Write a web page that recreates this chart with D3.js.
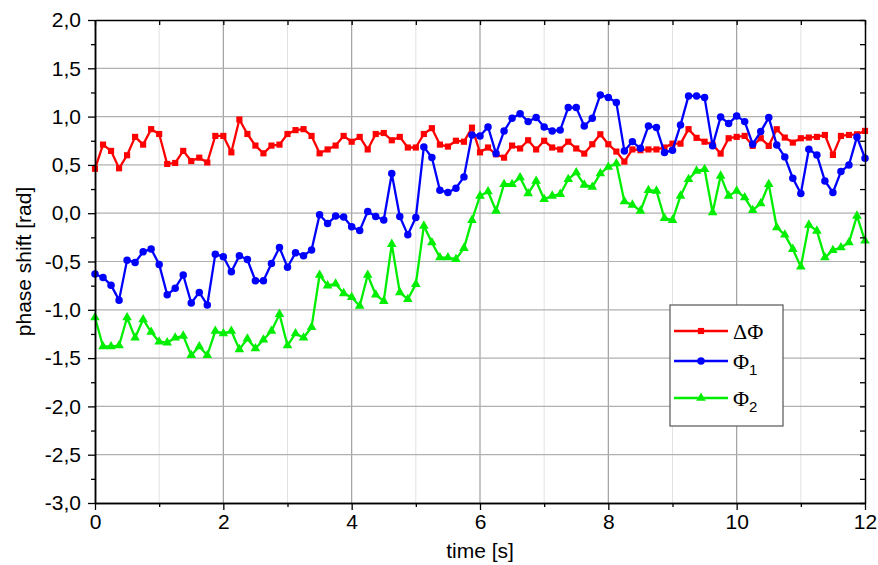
<!DOCTYPE html>
<html>
<head>
<meta charset="utf-8">
<script src="https://cdn.jsdelivr.net/npm/d3@7"></script>
<style>
  body { margin: 0; background: #fff; }
  svg { display: block; font-family: 'Liberation Sans', Arial, sans-serif; }
</style>
</head>
<body>
<div id="chart"></div>
<script>
// time in seconds, one sample every 1/8 s
const time = [
  0, 0.125, 0.25, 0.375, 0.5, 0.625, 0.75, 0.875, 1, 1.125, 1.25, 1.375, 1.5, 1.625, 1.75, 1.875,
  2, 2.125, 2.25, 2.375, 2.5, 2.625, 2.75, 2.875, 3, 3.125, 3.25, 3.375, 3.5, 3.625, 3.75, 3.875,
  4, 4.125, 4.25, 4.375, 4.5, 4.625, 4.75, 4.875, 5, 5.125, 5.25, 5.375, 5.5, 5.625, 5.75, 5.875,
  6, 6.125, 6.25, 6.375, 6.5, 6.625, 6.75, 6.875, 7, 7.125, 7.25, 7.375, 7.5, 7.625, 7.75, 7.875,
  8, 8.125, 8.25, 8.375, 8.5, 8.625, 8.75, 8.875, 9, 9.125, 9.25, 9.375, 9.5, 9.625, 9.75, 9.875,
  10, 10.125, 10.25, 10.375, 10.5, 10.625, 10.75, 10.875, 11, 11.125, 11.25, 11.375, 11.5, 11.625, 11.75, 11.875,
  12
];

const deltaPhi = [
  0.46, 0.71, 0.645, 0.465, 0.60, 0.79, 0.71, 0.87, 0.82, 0.51, 0.52, 0.645, 0.54, 0.575, 0.525, 0.80, 0.80, 0.63, 0.97, 0.82,
  0.70, 0.62, 0.70, 0.71, 0.82, 0.86, 0.87, 0.80, 0.62, 0.66, 0.70, 0.80, 0.74, 0.79, 0.66, 0.82, 0.83, 0.755, 0.79,
  0.68, 0.68, 0.82, 0.88, 0.71, 0.69, 0.75, 0.74, 0.886, 0.63, 0.68, 0.61, 0.575, 0.70, 0.67, 0.755, 0.66, 0.75, 0.68,
  0.66, 0.74, 0.67, 0.617, 0.714, 0.817, 0.714, 0.638, 0.534, 0.66, 0.652, 0.66, 0.66, 0.68, 0.72, 0.72, 0.87, 0.78, 0.74, 0.71,
  0.617, 0.776, 0.79, 0.80, 0.697, 0.776, 0.697, 0.869, 0.783, 0.731, 0.776, 0.783, 0.79, 0.81, 0.603, 0.80, 0.81, 0.817, 0.852
];

const phi1 = [
  -0.63, -0.665, -0.745, -0.90, -0.486, -0.51, -0.40, -0.37, -0.53, -0.845, -0.776, -0.64, -0.93, -0.82, -0.95, -0.424, -0.45, -0.607, -0.44, -0.48,
  -0.70, -0.70, -0.52, -0.355, -0.56, -0.41, -0.44, -0.38, -0.017, -0.107, -0.03, -0.04, -0.14, -0.18, 0.017, -0.034, -0.07, 0.41, -0.035,
  -0.224, -0.045, 0.686, 0.576, 0.238, 0.214, 0.259, 0.376, 0.81, 0.80, 0.893, 0.617, 0.85, 0.983, 1.03, 0.948, 0.99, 0.893, 0.85,
  0.86, 1.093, 1.093, 0.903, 0.983, 1.224, 1.197, 1.145, 0.645, 0.741, 0.672, 0.903, 0.886, 0.628, 0.652, 0.914, 1.214, 1.214, 1.197, 0.697,
  0.997, 0.928, 1.007, 0.948, 0.714, 0.845, 0.99, 0.707, 0.583, 0.362, 0.203, 0.662, 0.603, 0.334, 0.214, 0.431, 0.50, 0.79, 0.569
];

const phi2 = [
  -1.08, -1.38, -1.38, -1.37, -1.08, -1.29, -1.10, -1.23, -1.33, -1.34, -1.29, -1.27, -1.47, -1.38, -1.47, -1.22, -1.245, -1.22, -1.41, -1.30,
  -1.40, -1.31, -1.22, -1.045, -1.37, -1.245, -1.29, -1.18, -0.64, -0.75, -0.73, -0.83, -0.87, -0.96, -0.64, -0.845, -0.91, -0.32, -0.82,
  -0.89, -0.734, -0.131, -0.303, -0.459, -0.459, -0.476, -0.362, -0.072, 0.179, 0.224, 0.024, 0.30, 0.30, 0.369, 0.203, 0.334, 0.145, 0.179,
  0.197, 0.352, 0.421, 0.293, 0.272, 0.41, 0.479, 0.514, 0.121, 0.086, 0.024, 0.238, 0.231, -0.052, -0.072, 0.179, 0.352, 0.438, 0.455, 0.007,
  0.386, 0.179, 0.231, 0.162, 0.031, 0.10, 0.30, -0.148, -0.224, -0.372, -0.555, -0.121, -0.183, -0.459, -0.383, -0.355, -0.303, -0.028, -0.286
];

const xTicks = [0, 2, 4, 6, 8, 10, 12];
const xMinorTicks = [1, 3, 5, 7, 9, 11];
const yTicks = [2.0, 1.5, 1.0, 0.5, 0.0, -0.5, -1.0, -1.5, -2.0, -2.5, -3.0];
const yMinorTicks = [1.75, 1.25, 0.75, 0.25, -0.25, -0.75, -1.25, -1.75, -2.25, -2.75];

const width = 878;
const height = 565;
const margin = { top: 20, right: 13, bottom: 62, left: 95 };
const innerW = width - margin.left - margin.right;
const innerH = height - margin.top - margin.bottom;

const x = d3.scaleLinear().domain([0, 12]).range([0, innerW]);
const y = d3.scaleLinear().domain([-3, 2]).range([innerH, 0]);

const fmt = d => d.toFixed(1).replace('.', ',');

const svg = d3.select('#chart').append('svg')
  .attr('width', width)
  .attr('height', height);

const g = svg.append('g').attr('transform', `translate(${margin.left},${margin.top})`);

// grid
g.append('g')
  .selectAll('line')
  .data(xMinorTicks)
  .enter()
  .append('line')
  .attr('x1', d => x(d)).attr('x2', d => x(d))
  .attr('y1', 0).attr('y2', innerH)
  .attr('stroke', '#e2e2e2')
  .attr('stroke-width', 1);

g.append('g')
  .selectAll('line')
  .data(xTicks.slice(1, -1))
  .enter()
  .append('line')
  .attr('x1', d => x(d)).attr('x2', d => x(d))
  .attr('y1', 0).attr('y2', innerH)
  .attr('stroke', '#a0a0a0')
  .attr('stroke-width', 1.2);

g.append('g')
  .selectAll('line')
  .data(yTicks.slice(1, -1))
  .enter()
  .append('line')
  .attr('x1', 0).attr('x2', innerW)
  .attr('y1', d => y(d)).attr('y2', d => y(d))
  .attr('stroke', '#b0b0b0')
  .attr('stroke-width', 1.2);

// series
const series = [
  { name: 'dphi', values: deltaPhi, color: '#ff0000', marker: d3.symbolSquare, size: 38 },
  { name: 'phi1', values: phi1, color: '#0000ff', marker: d3.symbolCircle, size: 44 },
  { name: 'phi2', values: phi2, color: '#00ee00', marker: d3.symbolTriangle, size: 40 }
];

const line = d3.line()
  .x((d, i) => x(time[i]))
  .y(d => y(d));

const plot = g.append('g');

series.forEach(s => {
  plot.append('path')
    .datum(s.values)
    .attr('fill', 'none')
    .attr('stroke', s.color)
    .attr('stroke-width', 2.3)
    .attr('stroke-linejoin', 'round')
    .attr('d', line);

  plot.append('g')
    .selectAll('path')
    .data(s.values)
    .enter()
    .append('path')
    .attr('transform', (d, i) => `translate(${x(time[i])},${y(d)})`)
    .attr('d', d3.symbol().type(s.marker).size(s.size))
    .attr('fill', s.color);
});

// axes
const styleAxis = sel => {
  sel.selectAll('.domain').attr('stroke', '#000').attr('stroke-width', 1.6);
  sel.selectAll('.tick line').attr('stroke', '#000').attr('stroke-width', 1.3);
  sel.selectAll('.tick text').attr('fill', '#000').style('font-size', '21px');
};

g.append('g')
  .attr('transform', `translate(0,${innerH})`)
  .call(d3.axisBottom(x).tickValues(xTicks).tickFormat(d3.format('d')).tickSize(7).tickPadding(4).tickSizeOuter(0))
  .call(styleAxis);

g.append('g')
  .attr('transform', `translate(0,${innerH})`)
  .call(d3.axisBottom(x).tickValues(xMinorTicks).tickFormat('').tickSize(4).tickSizeOuter(0))
  .call(styleAxis);

g.append('g')
  .call(d3.axisLeft(y).tickValues(yTicks).tickFormat(fmt).tickSize(7).tickPadding(7).tickSizeOuter(0))
  .call(styleAxis);

g.append('g')
  .call(d3.axisLeft(y).tickValues(yMinorTicks).tickFormat('').tickSize(4).tickSizeOuter(0))
  .call(styleAxis);

// right and top frame with inward ticks
g.append('g')
  .attr('transform', `translate(${innerW},0)`)
  .call(d3.axisLeft(y).tickValues(yTicks.concat(yMinorTicks)).tickFormat('').tickSize(5).tickSizeOuter(0))
  .call(styleAxis);

g.append('g')
  .call(d3.axisBottom(x).tickValues(xTicks.concat(xMinorTicks)).tickFormat('').tickSize(5).tickSizeOuter(0))
  .call(styleAxis);

g.selectAll('.domain').attr('stroke-width', 1.5);

// axis titles
svg.append('text')
  .attr('transform', `translate(24,${margin.top + innerH / 2}) rotate(-90)`)
  .attr('text-anchor', 'middle')
  .attr('dy', '0.35em')
  .style('font-size', '21px')
  .text('phase shift [rad]');

svg.append('text')
  .attr('x', margin.left + innerW / 2)
  .attr('y', 558)
  .attr('text-anchor', 'middle')
  .style('font-size', '21px')
  .text('time [s]');

// legend
const legend = svg.append('g').attr('transform', 'translate(670,305)');

legend.append('rect')
  .attr('width', 113)
  .attr('height', 121)
  .attr('fill', '#fff')
  .attr('stroke', '#555')
  .attr('stroke-width', 1.2);

const legendRows = [26, 56, 93];
const legendNames = [['\u0394\u03A6', ''], ['\u03A6', '1'], ['\u03A6', '2']];

series.forEach((s, i) => {
  const row = legend.append('g').attr('transform', `translate(0,${legendRows[i]})`);
  row.append('line')
    .attr('x1', 4).attr('x2', 58)
    .attr('stroke', s.color)
    .attr('stroke-width', 2.3);
  row.append('path')
    .attr('transform', 'translate(31,0)')
    .attr('d', d3.symbol().type(s.marker).size(s.size))
    .attr('fill', s.color);
  const label = row.append('text')
    .attr('x', 63)
    .attr('dy', '0.35em')
    .style('font-family', "'Liberation Serif', 'Times New Roman', serif")
    .style('font-size', '22px')
    .text(legendNames[i][0]);
  if (legendNames[i][1]) {
    label.append('tspan')
      .attr('dy', '0.45em')
      .style('font-family', "'Liberation Sans', Arial, sans-serif")
      .style('font-size', '15px')
      .text(legendNames[i][1]);
  }
});
</script>
</body>
</html>
